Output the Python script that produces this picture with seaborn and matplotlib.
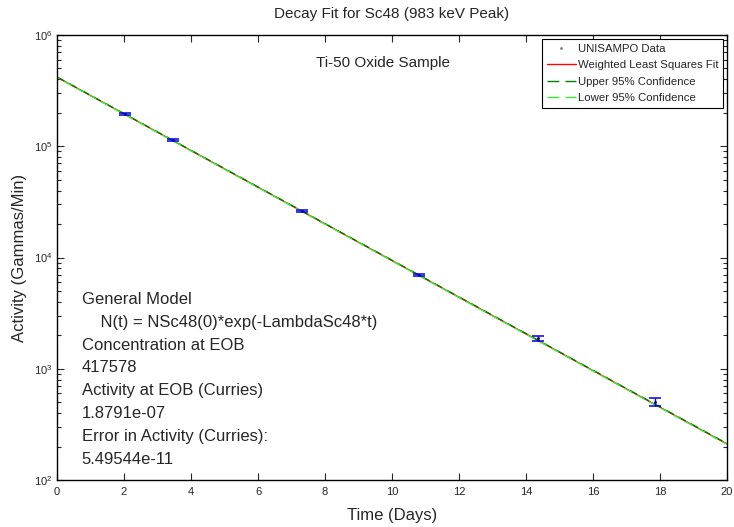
import numpy as np
import pandas as pd
import matplotlib
matplotlib.use("Agg")
import matplotlib.pyplot as plt
import seaborn as sns
from matplotlib.lines import Line2D
from matplotlib.ticker import LogLocator, MultipleLocator

days = [2.03, 3.45, 7.31, 10.8, 14.36, 17.85]
activity = [1.95e5, 1.14e5, 2.63e4, 6.96e3, 1.88e3, 505]
activity_err = [3000, 1800, 450, 150, 90, 38]

# fit line and 95% bounds, values at the axis ends
fit_days = [0, 20]
fit_activity = [417578, 211]
upper_activity = [419500, 212.5]
lower_activity = [415700, 209.5]

info_lines = [
    "General Model",
    "    N(t) = NSc48(0)*exp(-LambdaSc48*t)",
    "Concentration at EOB",
    "417578",
    "Activity at EOB (Curries)",
    "1.8791e-07",
    "Error in Activity (Curries):",
    "5.49544e-11",
]

sns.set_style("ticks")
plt.rcParams['font.family'] = ['Liberation Sans', 'DejaVu Sans']

fig = plt.figure(figsize=(7.34, 5.27), dpi=100)
ax = fig.add_axes([57 / 734, 1 - 480 / 527, 670 / 734, 445 / 527])

pts = pd.DataFrame({'t': days, 'A': activity})
fit = pd.DataFrame({'t': fit_days, 'fit': fit_activity,
                    'up': upper_activity, 'lo': lower_activity})

sns.scatterplot(data=pts, x='t', y='A', ax=ax, color='black', s=4,
                linewidth=0, zorder=3)
sns.lineplot(data=fit, x='t', y='fit', ax=ax, color='red', lw=1, zorder=2)
sns.lineplot(data=fit, x='t', y='up', ax=ax, color='#008000', lw=1,
             dashes=(6, 4), zorder=2)
sns.lineplot(data=fit, x='t', y='lo', ax=ax, color='#33ee33', lw=1,
             dashes=(6, 4), zorder=2)
ax.lines[-1].set_linestyle((4, (6, 4)))
ax.errorbar(days, activity, yerr=activity_err, fmt='none', ecolor='#0000dd',
            elinewidth=1, capsize=4, capthick=1.1, zorder=4)

ax.set_yscale('log')
ax.set_xlim(0, 20)
ax.set_ylim(1e2, 1e6)
ax.xaxis.set_major_locator(MultipleLocator(2))
ax.yaxis.set_major_locator(LogLocator(base=10, numticks=10))
ax.yaxis.set_minor_locator(LogLocator(base=10, subs=np.arange(2, 10), numticks=10))
ax.tick_params(axis='both', which='both', direction='in', top=True, right=True,
               labelsize=8, width=0.8)
ax.tick_params(axis='x', pad=5)
ax.tick_params(which='major', length=5)
ax.tick_params(which='minor', length=3)
for s in ax.spines.values():
    s.set_linewidth(1)
    s.set_color('black')

ax.set_title('Decay Fit for Sc48 (983 keV Peak)', fontsize=11, pad=12)
ax.set_xlabel('Time (Days)', fontsize=12, labelpad=8)
ax.set_ylabel('Activity (Gammas/Min)', fontsize=12, labelpad=5)

ax.text(0.487, 0.936, 'Ti-50 Oxide Sample', transform=ax.transAxes,
        fontsize=11, ha='center', va='center')

for i, line in enumerate(info_lines):
    y = 1 - (299 + 23 * i - 35) / 445
    ax.text(0.037, y, line, transform=ax.transAxes, fontsize=12,
            ha='left', va='center')

handles = [
    Line2D([0], [0], color='gray', marker='.', markersize=2, lw=0),
    Line2D([0], [0], color='red', lw=1),
    Line2D([0], [0], color='#008000', lw=1, dashes=(8.5, 4.5)),
    Line2D([0], [0], color='#33ee33', lw=1, dashes=(8.5, 4.5)),
]
labels = ['UNISAMPO Data', 'Weighted Least Squares Fit',
          'Upper 95% Confidence', 'Lower 95% Confidence']
leg = ax.legend(handles, labels, loc='upper right', fontsize=8.2,
                frameon=True, fancybox=False, framealpha=1, edgecolor='black',
                borderaxespad=0.35, handlelength=2.6, handletextpad=0.15,
                labelspacing=0.58, borderpad=0.4)
leg.get_frame().set_linewidth(0.8)

fig.savefig('out.png', dpi=100)
